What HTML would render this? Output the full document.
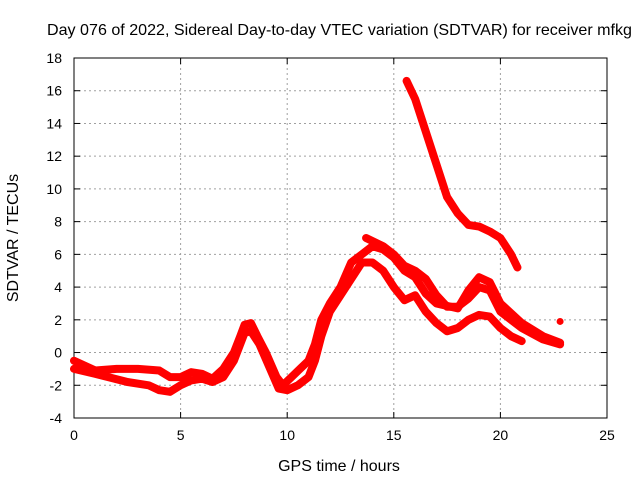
<!DOCTYPE html>
<html><head><meta charset="utf-8"><style>
body{margin:0;background:#fff}
svg text{font-family:"Liberation Sans",sans-serif;font-size:14px;fill:#000}
svg text.big{font-size:16px}
</style></head><body>
<svg id="chart" width="640" height="480"></svg>
<script>
const xTicks=[0,5,10,15,20,25];
const yTicks=[-4,-2,0,2,4,6,8,10,12,14,16,18];
const trackA=[[0,-0.5],[0.5,-0.8],[1,-1.1],[2,-1.0],[3,-1.0],[4,-1.1],[4.5,-1.5],[5,-1.5],[5.5,-1.2],[6,-1.3],[6.5,-1.6],[7,-1.0],[7.5,0],[7.8,1],[8,1.7],[8.3,1.8],[8.6,1],[9,0],[9.5,-1.5],[9.8,-2.0],[10.2,-1.5],[10.6,-1],[11,-0.5],[11.3,0.5],[11.6,2],[12,3],[12.5,4],[13,5.5],[13.5,6],[14,6.5],[14.5,6.3],[15,5.8],[15.5,5.0],[16,4.6],[16.5,3.6],[17,3],[18,2.7],[18.5,3.8],[19,4.6],[19.5,4.3],[20,3],[21,1.8],[22,1],[22.8,0.6]];
const trackB=[[0,-1],[1,-1.3],[2.5,-1.8],[3.5,-2],[4,-2.3],[4.5,-2.4],[5,-2],[5.5,-1.7],[6,-1.6],[6.5,-1.8],[7,-1.5],[7.5,-0.5],[8,1.2],[8.3,1.3],[8.7,0.5],[9.2,-1],[9.6,-2.2],[10,-2.3],[10.5,-2],[11,-1.5],[11.3,-0.5],[11.6,1],[12,2.5],[12.5,3.5],[13,4.5],[13.5,5.5],[14,5.5],[14.5,5],[15,4],[15.5,3.2],[16,3.5],[16.5,2.5],[17,1.8],[17.5,1.3],[18,1.5],[18.5,2],[19,2.3],[19.5,2.2],[20,1.5],[20.5,1],[21,0.7]];
const trackC=[[13.7,7],[14.5,6.5],[15,6],[15.5,5.3],[16,5],[16.5,4.5],[17,3.5],[17.5,2.8],[18,2.8],[18.5,3.3],[19,4],[19.5,3.8],[20,2.5],[21,1.5],[22,0.8],[22.8,0.5]];
const trackD=[[15.6,16.6],[16,15.5],[16.5,13.5],[17,11.5],[17.5,9.5],[18,8.5],[18.5,7.8],[19,7.7],[19.5,7.4],[20,7],[20.5,6],[20.8,5.2]];
const isolated=[[22.8,1.9]];
const L=74,R=607,T=58,B=418;
const sx=v=>L+(v-0)/(25-0)*(R-L);
const sy=v=>B-(v+4)/(22)*(B-T);
const svg=document.getElementById('chart');
const NS='http://www.w3.org/2000/svg';
function mk(tag,attrs){const e=document.createElementNS(NS,tag);for(const k in attrs)e.setAttribute(k,attrs[k]);svg.appendChild(e);return e;}
const title=mk('text',{x:47,y:35,'class':'big',textLength:585,lengthAdjust:'spacingAndGlyphs'});title.textContent='Day 076 of 2022, Sidereal Day-to-day VTEC variation (SDTVAR) for receiver mfkg';


xTicks.forEach(t=>{
 const x=sx(t);
 if(t>0&&t<25){const g=mk('line',{x1:x,x2:x,y1:T,y2:B,stroke:'#a0a0a0','stroke-dasharray':'2,3'});
 
 }
 mk('line',{x1:x,x2:x,y1:B,y2:B-6,stroke:'#000'});mk('line',{x1:x,x2:x,y1:T,y2:T+6,stroke:'#000'});
 const tx=mk('text',{x:x,y:B+22,'text-anchor':'middle'});tx.textContent=t;
 
 
});
yTicks.forEach(t=>{
 const y=sy(t);
 if(t>-4&&t<18){const g=mk('line',{x1:L,x2:R,y1:y,y2:y,stroke:'#a0a0a0','stroke-dasharray':'2,3'});
 
 }
 mk('line',{x1:L,x2:L+6,y1:y,y2:y,stroke:'#000'});mk('line',{x1:R,x2:R-6,y1:y,y2:y,stroke:'#000'});
 const tx=mk('text',{x:L-12,y:y+5,'text-anchor':'end'});tx.textContent=t;
 
 
});
const frame=mk('rect',{x:L,y:T,width:R-L,height:B-T,fill:'none',stroke:'#000'});


const xl=mk('text',{x:339,y:471,'text-anchor':'middle','class':'big'});xl.textContent='GPS time / hours';


const yl=mk('text',{x:18,y:238,'text-anchor':'middle','class':'big',transform:'rotate(-90 18 238)'});yl.textContent='SDTVAR / TECUs';


[trackA,trackB,trackC,trackD].forEach((tr,i)=>{
 const p=mk('polyline',{points:tr.map(d=>sx(d[0])+','+sy(d[1])).join(' '),fill:'none',stroke:'#ff0000','stroke-width':8,'stroke-linejoin':'round','stroke-linecap':'round'});
 
 
});
isolated.forEach(d=>{
 const c=mk('circle',{cx:sx(d[0]),cy:sy(d[1]),r:3.5,fill:'#ff0000'});
 
 
});
</script>
</body></html>
